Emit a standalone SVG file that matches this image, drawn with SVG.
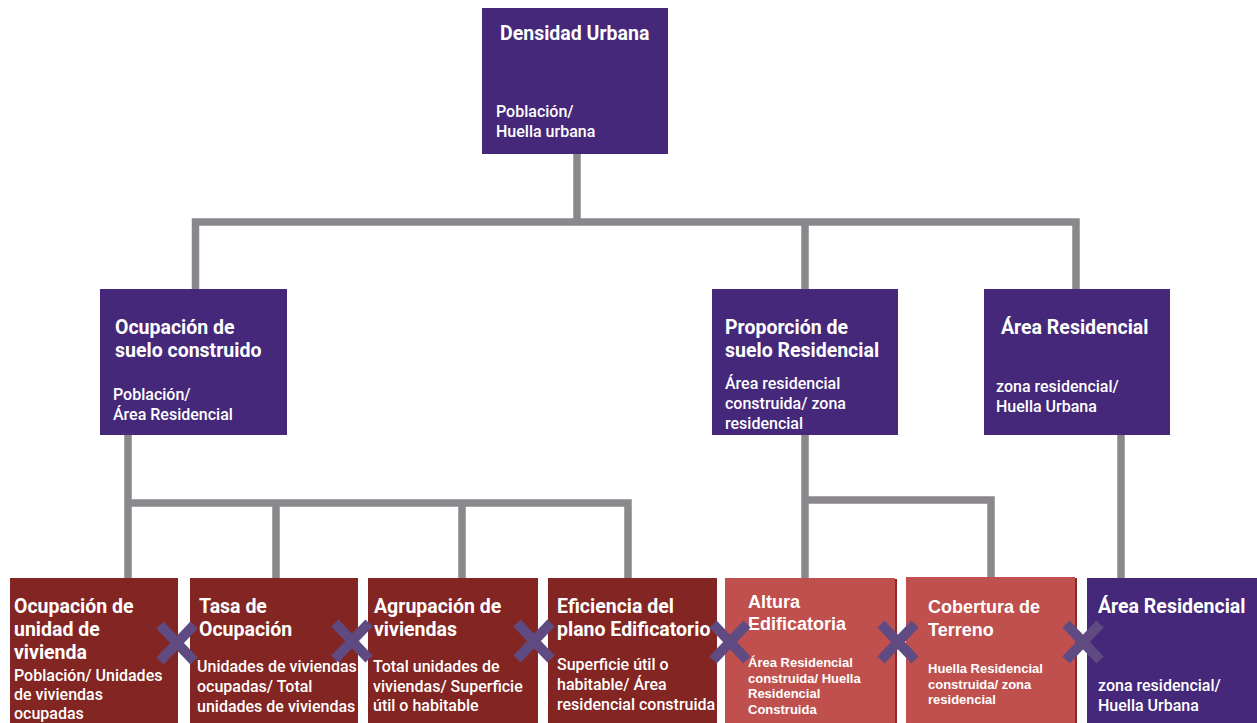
<svg xmlns="http://www.w3.org/2000/svg" width="1257" height="723" viewBox="0 0 1257 723">
<style>
.purple{fill:#45287a}
.dred{fill:#832522}
.lred{fill:#c0504d}
.conn{stroke:#8a888c;stroke-width:7.5;fill:none;stroke-linejoin:miter;stroke-linecap:square}
text{fill:#fff;font-family:Roboto,"Liberation Sans",sans-serif}
.t{font-size:19.5px;font-weight:700}
.s{font-size:16px;font-weight:500}
.ta{font-family:"Liberation Sans",Arial,sans-serif;font-size:18px;font-weight:700}
.sa{font-family:"Liberation Sans",Arial,sans-serif;font-size:13px;font-weight:700}
.x{stroke:#5f4b82;stroke-width:10;stroke-linecap:butt}
</style>
<rect width="1257" height="723" fill="#fff"/>
<g id="connectors">
<path class="conn" d="M577 154V222M195.5 289V222H1076V289M805 222V289"/>
<path class="conn" d="M128 435V578M128 503H628V578M276 503V578M462 503V578"/>
<path class="conn" d="M805 435V578M805 500H991V578"/>
<path class="conn" d="M1121 435V578"/>
</g>
<g id="densidad">
<rect class="purple" x="482" y="8" width="186" height="146"/>
<text class="t" x="500" y="40">Densidad Urbana</text>
<text class="s" x="496" y="117">Población/</text>
<text class="s" x="496" y="137">Huella urbana</text>
</g>
<g id="ocupacion-suelo">
<rect class="purple" x="100" y="289" width="187" height="146"/>
<text class="t" x="115" y="334">Ocupación de</text>
<text class="t" x="115" y="357">suelo construido</text>
<text class="s" x="113" y="400">Población/</text>
<text class="s" x="113" y="420">Área Residencial</text>
</g>
<g id="proporcion">
<rect class="purple" x="712" y="289" width="186" height="146"/>
<text class="t" x="725" y="334">Proporción de</text>
<text class="t" x="725" y="357">suelo Residencial</text>
<text class="s" x="725" y="389">Área residencial</text>
<text class="s" x="725" y="409">construida/ zona</text>
<text class="s" x="725" y="429">residencial</text>
</g>
<g id="area-residencial-mid">
<rect class="purple" x="984" y="289" width="186" height="146"/>
<text class="t" x="1001" y="334">Área Residencial</text>
<text class="s" x="996" y="392">zona residencial/</text>
<text class="s" x="996" y="412">Huella Urbana</text>
</g>
<g id="ocupacion-unidad">
<rect class="dred" x="10" y="578" width="168" height="145"/>
<text class="t" x="14" y="613">Ocupación de</text>
<text class="t" x="14" y="636">unidad de</text>
<text class="t" x="14" y="659">vivienda</text>
<text class="s" x="14" y="681">Población/ Unidades</text>
<text class="s" x="14" y="700">de viviendas</text>
<text class="s" x="14" y="719">ocupadas</text>
</g>
<g id="tasa">
<rect class="dred" x="190" y="578" width="168" height="145"/>
<text class="t" x="199" y="613">Tasa de</text>
<text class="t" x="199" y="636">Ocupación</text>
<text class="s" x="197" y="672">Unidades de viviendas</text>
<text class="s" x="197" y="692">ocupadas/ Total</text>
<text class="s" x="197" y="712">unidades de viviendas</text>
</g>
<g id="agrupacion">
<rect class="dred" x="368" y="578" width="170" height="145"/>
<text class="t" x="374" y="613">Agrupación de</text>
<text class="t" x="374" y="636">viviendas</text>
<text class="s" x="373" y="672">Total unidades de</text>
<text class="s" x="373" y="692">viviendas/ Superficie</text>
<text class="s" x="373" y="711">útil o habitable</text>
</g>
<g id="eficiencia">
<rect class="dred" x="548" y="578" width="169" height="145"/>
<text class="t" x="557" y="613">Eficiencia del</text>
<text class="t" x="557" y="636">plano Edificatorio</text>
<text class="s" x="557" y="670">Superficie útil o</text>
<text class="s" x="557" y="690">habitable/ Área</text>
<text class="s" x="557" y="710">residencial construida</text>
</g>
<g id="altura">
<rect fill="#8e2b28" x="727" y="579" width="170" height="144"/>
<rect class="lred" x="725" y="578" width="170" height="145"/>
<text class="ta" x="748" y="608">Altura</text>
<text class="ta" x="748" y="630">Edificatoria</text>
<text class="sa" x="748" y="667">Área Residencial</text>
<text class="sa" x="748" y="683">construida/ Huella</text>
<text class="sa" x="748" y="698">Residencial</text>
<text class="sa" x="748" y="714">Construida</text>
</g>
<g id="cobertura">
<rect fill="#8e2b28" x="908" y="578" width="169" height="145"/>
<rect class="lred" x="906" y="577" width="169" height="146"/>
<text class="ta" x="928" y="613">Cobertura de</text>
<text class="ta" x="928" y="636">Terreno</text>
<text class="sa" x="928" y="673">Huella Residencial</text>
<text class="sa" x="928" y="689">construida/ zona</text>
<text class="sa" x="928" y="704">residencial</text>
</g>
<g id="area-residencial-bottom">
<rect class="purple" x="1087" y="578" width="170" height="145"/>
<text class="t" x="1098" y="613">Área Residencial</text>
<text class="s" x="1098" y="691">zona residencial/</text>
<text class="s" x="1098" y="711">Huella Urbana</text>
</g>
<g id="operators">
<path class="x" d="M160 625L194 661M194 625L160 661"/>
<path class="x" d="M335 623L369 659M369 623L335 659"/>
<path class="x" d="M517 623L551 659M551 623L517 659"/>
<path class="x" d="M713 624L747 660M747 624L713 660"/>
<path class="x" d="M881 624L915 660M915 624L881 660"/>
<path class="x" d="M1066 624L1100 660M1100 624L1066 660"/>
</g>
</svg>
